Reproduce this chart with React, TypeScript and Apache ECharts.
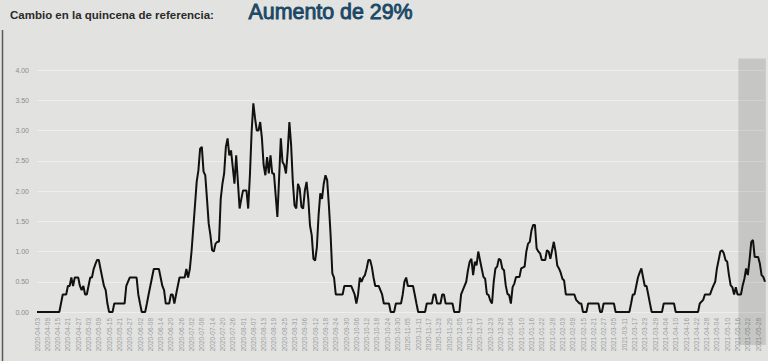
import React, { useEffect, useRef } from "react";
import * as echarts from "echarts";

// ---- Data -------------------------------------------------------------
const START_DATE = Date.UTC(2020, 3, 3); // 2020-04-03
const DAY_COUNT = 425;
const categories: string[] = Array.from({ length: DAY_COUNT }, (_, i) =>
  new Date(START_DATE + i * 86400000).toISOString().slice(0, 10)
);

// [day offset from 2020-04-03, value]
const spring2020: [number, number][] = [
  [0, 0], [13, 0], [15, 0.29], [17, 0.29], [18, 0.43], [19, 0.43], [20, 0.57], [21, 0.43],
  [22, 0.57], [24, 0.57], [25, 0.43], [26, 0.36], [27, 0.43], [28, 0.29], [29, 0.29],
  [31, 0.57], [32, 0.57], [33, 0.71], [34, 0.79], [35, 0.86], [36, 0.86], [37, 0.71],
  [38, 0.57], [39, 0.43], [40, 0.36], [41, 0.14], [42, 0], [44, 0], [45, 0.14], [51, 0.14],
  [52, 0.43], [54, 0.57], [58, 0.57], [59, 0.29], [60, 0.14], [61, 0], [63, 0], [64, 0.14],
  [65, 0.29], [67, 0.57], [68, 0.71], [71, 0.71], [72, 0.57], [73, 0.43], [74, 0.36],
  [75, 0.14], [77, 0.14], [78, 0.29], [79, 0.29], [80, 0.14], [81, 0.29], [82, 0.43],
  [83, 0.57], [86, 0.57], [87, 0.71], [88, 0.57], [89, 0.71],
];
const summer2020: [number, number][] = [
  [90, 1.0], [91, 1.38], [92, 1.76], [93, 2.15], [94, 2.34], [95, 2.7], [96, 2.73],
  [97, 2.32], [98, 2.26], [99, 1.87], [100, 1.46], [101, 1.27], [102, 1.02], [103, 1.0],
  [104, 1.13], [105, 1.16], [106, 1.16], [107, 1.87], [108, 2.12], [109, 2.29], [110, 2.73],
  [111, 2.87], [112, 2.59], [113, 2.67], [114, 2.4], [115, 2.12], [116, 2.59], [117, 2.15],
  [118, 1.71], [119, 1.87], [120, 2.01], [122, 2.01], [123, 1.71], [124, 2.26], [125, 2.98],
  [126, 3.45], [127, 3.2], [128, 3.0], [129, 3.0], [130, 3.14], [131, 2.87], [132, 2.43],
  [133, 2.26], [134, 2.56], [135, 2.29], [136, 2.59], [137, 2.29], [138, 2.29], [139, 1.93],
  [140, 1.57], [141, 2.21], [142, 2.87], [143, 2.48], [144, 2.43], [145, 2.29], [146, 2.65],
  [147, 3.14], [148, 2.76], [149, 2.15], [150, 1.76], [151, 1.71], [152, 2.12], [153, 2.04],
  [154, 1.74], [155, 1.71], [156, 2.01], [157, 2.15], [158, 1.87], [159, 1.43], [160, 1.27],
  [161, 0.88], [162, 0.85], [163, 1.07], [164, 1.6], [165, 1.96], [166, 1.87], [167, 2.12],
  [168, 2.26], [169, 2.18], [170, 1.76], [171, 1.27], [172, 0.64], [173, 0.57],
];
const autumn2020: [number, number][] = [
  [174, 0.29], [178, 0.29], [179, 0.43], [183, 0.43], [185, 0.29], [186, 0.14], [187, 0.29],
  [188, 0.57], [189, 0.5], [190, 0.57], [191, 0.61], [192, 0.72], [193, 0.86], [194, 0.86],
  [195, 0.75], [196, 0.57], [197, 0.43], [199, 0.43], [201, 0.29], [202, 0.14], [205, 0.14],
  [206, 0], [208, 0], [209, 0.14], [212, 0.14], [213, 0.29], [214, 0.5], [215, 0.57],
  [216, 0.43], [219, 0.43], [220, 0.29], [221, 0.14], [222, 0], [226, 0], [227, 0.14],
  [230, 0.14], [231, 0.29], [232, 0.29], [233, 0.14], [235, 0.14], [236, 0.29], [237, 0.29],
  [238, 0.14], [242, 0.14], [243, 0], [246, 0], [247, 0.29], [249, 0.43], [250, 0.5],
  [251, 0.69], [252, 0.83], [253, 0.88], [254, 0.61], [255, 0.83], [256, 0.77],
];
const winter2021: [number, number][] = [
  [257, 1.0], [258, 0.86], [259, 0.72], [260, 0.58], [261, 0.55], [262, 0.3], [263, 0.28],
  [264, 0.19], [265, 0.14], [266, 0.5], [267, 0.72], [268, 0.75], [269, 0.88], [270, 0.86],
  [271, 0.72], [272, 0.69], [273, 0.44], [274, 0.3], [275, 0.28], [276, 0.14], [277, 0.41],
  [278, 0.47], [279, 0.58], [281, 0.58], [282, 0.72], [284, 0.75], [285, 1.0], [286, 1.13],
  [287, 1.16], [288, 1.35], [289, 1.44], [290, 1.44], [291, 1.05], [292, 1.0], [293, 0.97],
  [294, 0.86], [296, 0.86], [297, 1.02], [298, 1.0], [299, 0.88], [300, 1.02], [301, 1.16],
  [302, 1.0], [303, 0.77], [304, 0.72], [305, 0.65], [306, 0.55], [307, 0.52], [308, 0.29],
  [313, 0.29], [314, 0.2], [316, 0.14], [317, 0.14], [318, 0], [320, 0], [321, 0.14],
  [327, 0.14], [328, 0], [329, 0], [330, 0.14], [336, 0.14], [337, 0],
];
const spring2021: [number, number][] = [
  [345, 0], [346, 0.14], [347, 0.29], [348, 0.29], [349, 0.43], [350, 0.57], [351, 0.65],
  [352, 0.72], [353, 0.57], [354, 0.43], [355, 0.43], [356, 0.29], [357, 0.14], [358, 0],
  [364, 0], [365, 0.14], [371, 0.14], [372, 0], [385, 0], [386, 0.14], [388, 0.2],
  [389, 0.29], [392, 0.29], [393, 0.37], [394, 0.44], [395, 0.5], [396, 0.72], [397, 0.86],
  [398, 1.0], [399, 1.02], [400, 0.97], [401, 0.86], [402, 0.83], [403, 0.61], [404, 0.44],
  [405, 0.41], [406, 0.29], [407, 0.41], [408, 0.29], [410, 0.29], [411, 0.44], [412, 0.55],
  [413, 0.72], [414, 0.61], [415, 0.86], [416, 1.16], [417, 1.19], [418, 0.91], [420, 0.91],
  [421, 0.8], [422, 0.61], [423, 0.58], [424, 0.5],
];

const readings = [...spring2020, ...summer2020, ...autumn2020, ...winter2021, ...spring2021];

const Y_TICKS_MAX = 4;
const Y_STEP = 0.5;
const LABEL_EVERY = 6;
const LAST_LABEL_INDEX = 420;
const HIGHLIGHT_START = 409; // start of the reference fortnight
const HIGHLIGHT_END = 424;
const HIGHLIGHT_TOP = 4.19;

const TITLE_LEFT = "Cambio en la quincena de referencia:";
const TITLE_RIGHT = "Aumento de 29%";

const FONT = "'Liberation Sans', Arial, sans-serif";

export default function App() {
  const ref = useRef<HTMLDivElement>(null);

  useEffect(() => {
    document.body.style.margin = "0";
    if (!ref.current) return;
    const chart = echarts.init(ref.current, null, { renderer: "svg" });
    chart.setOption({
      animation: false,
      backgroundColor: "#e2e3e1",
      textStyle: { fontFamily: FONT },
      grid: { left: 37, right: 3, top: 70, bottom: 49, containLabel: false },
      xAxis: {
        type: "category",
        data: categories,
        boundaryGap: false,
        axisLine: { show: false },
        axisTick: { show: false },
        splitLine: { show: false },
        axisLabel: {
          interval: (idx: number) => idx % LABEL_EVERY === 0 && idx <= LAST_LABEL_INDEX,
          rotate: 90,
          fontSize: 6.5,
          color: "#9b9b9b",
          margin: 6,
          fontFamily: FONT,
        },
      },
      yAxis: {
        type: "value",
        min: 0,
        max: Y_TICKS_MAX,
        interval: Y_STEP,
        axisLine: { show: false },
        axisTick: { show: false },
        splitLine: { lineStyle: { color: "#eeefed", width: 1 } },
        axisLabel: {
          formatter: (v: number) => v.toFixed(2),
          fontSize: 7,
          color: "#8c8c8c",
          margin: 8,
          fontFamily: FONT,
        },
      },
      series: [
        {
          type: "line",
          data: readings.map(([d, v]) => [d, v]),
          showSymbol: false,
          z: 3,
          lineStyle: { color: "#111111", width: 2 },
          itemStyle: { color: "#111111" },
        },
      ],
    });

    const xa = chart.convertToPixel({ xAxisIndex: 0 }, HIGHLIGHT_START) as number;
    const xb = chart.convertToPixel({ xAxisIndex: 0 }, HIGHLIGHT_END) as number;
    const step = (chart.convertToPixel({ xAxisIndex: 0 }, 1) as number) - (chart.convertToPixel({ xAxisIndex: 0 }, 0) as number);
    const yTop = chart.convertToPixel({ yAxisIndex: 0 }, HIGHLIGHT_TOP) as number;
    const x0 = xa - step / 2;
    const x1 = xb + step / 2;

    chart.setOption({
      graphic: [
        {
          type: "rect",
          z: 1,
          shape: { x: x0, y: yTop, width: x1 - x0, height: 345 - yTop },
          style: { fill: "rgba(0,0,0,0.12)" },
        },
        {
          type: "line",
          z: 1,
          shape: { x1: 2.5, y1: 30, x2: 2.5, y2: 361 },
          style: { stroke: "#5a5a5a", lineWidth: 1.5 },
        },
        {
          type: "text",
          x: 10,
          y: 14.5,
          style: {
            text: TITLE_LEFT,
            font: `bold 11.5px ${FONT}`,
            fill: "#2a2a2a",
            verticalAlign: "middle",
          },
        },
        {
          type: "text",
          x: 248.5,
          y: 12,
          style: {
            text: TITLE_RIGHT,
            font: `21.4px ${FONT}`,
            fill: "#1c4866",
            stroke: "#1c4866",
            lineWidth: 0.9,
            verticalAlign: "middle",
          },
        },
      ],
    });

    return () => chart.dispose();
  }, []);

  return <div ref={ref} style={{ width: 768, height: 361 }} />;
}
